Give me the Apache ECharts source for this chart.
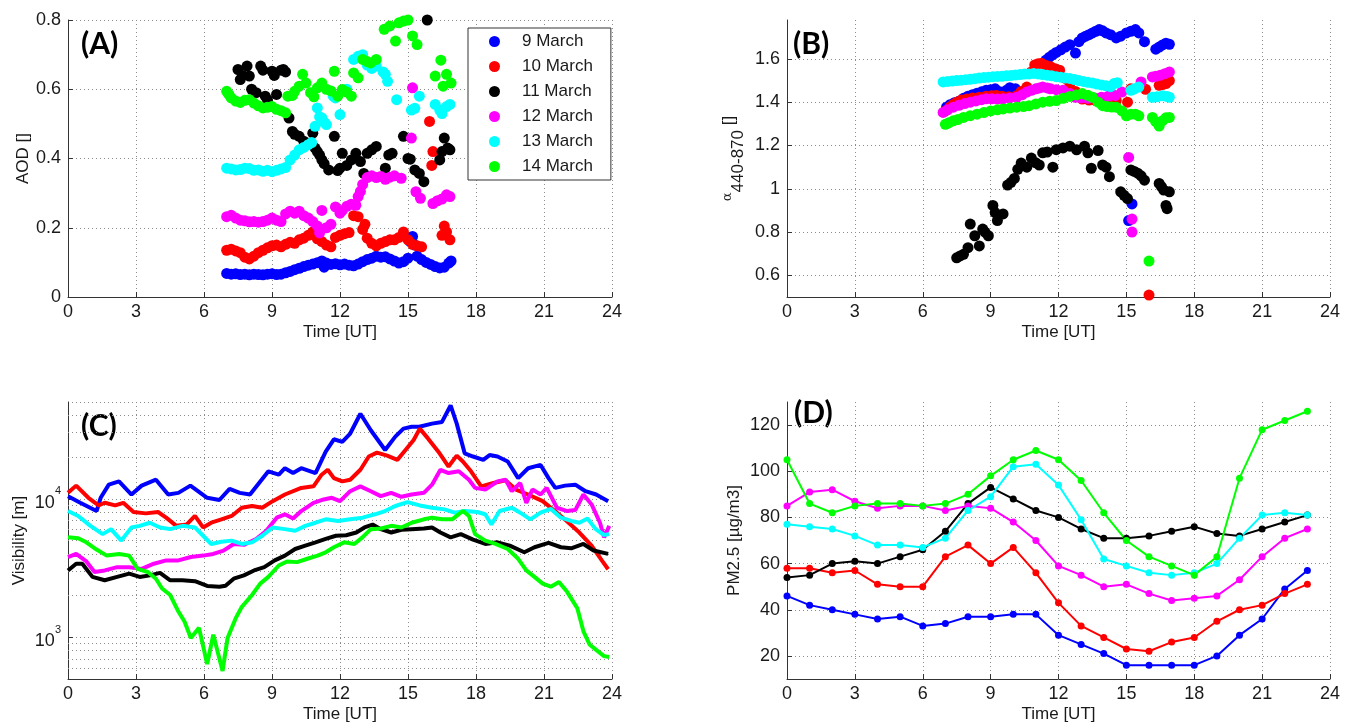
<!DOCTYPE html>
<html>
<head>
<meta charset="utf-8">
<script src="https://cdn.jsdelivr.net/npm/echarts@6/dist/echarts.min.js"></script>
<style>html,body{margin:0;padding:0;background:#fff}#chart{width:1346px;height:727px}</style>
</head>
<body>
<div id="chart"></div>
<script>
// days and colours (MATLAB default b r k m c g)
var days = ['9 March', '10 March', '11 March', '12 March', '13 March', '14 March'];
var colors = ['#0000ff', '#ff0000', '#000000', '#ff00ff', '#00ffff', '#00ff00'];

/* (A) AOD, [hour UT, AOD] */
var aod9 = [[7.0,.068],[7.2,.066],[7.4,.067],[7.6,.065],[7.8,.066],[8.0,.064],[8.2,.066],[8.4,.065],[8.6,.064],[8.8,.066],[9.0,.067],[9.2,.065],[9.4,.066],[9.6,.070],[9.8,.074],[10.0,.079],[10.2,.083],[10.4,.088],[10.6,.092],[10.8,.095],[11.0,.099],[11.2,.104],[11.3,.086],[11.4,.098],[11.6,.094],[11.8,.096],[12.0,.093],[12.2,.095],[12.4,.092],[12.6,.090],[12.8,.095],[13.0,.102],[13.2,.108],[13.4,.112],[13.6,.118],[13.8,.115],[14.0,.116],[14.2,.110],[14.4,.104],[14.6,.098],[14.8,.102],[15.0,.112],[15.1,.160],[15.2,.175],[15.3,.150],[15.4,.118],[15.6,.108],[15.8,.100],[16.0,.094],[16.2,.088],[16.4,.084],[16.6,.086],[16.8,.098],[16.9,.104]];
var aod10 = [[7.0,.135],[7.2,.138],[7.4,.133],[7.6,.128],[7.8,.115],[8.0,.110],[8.2,.118],[8.4,.128],[8.6,.135],[8.8,.142],[9.0,.148],[9.2,.150],[9.4,.145],[9.6,.152],[9.8,.158],[10.0,.155],[10.2,.165],[10.4,.170],[10.6,.178],[10.8,.188],[11.0,.168],[11.2,.160],[11.4,.150],[11.6,.145],[11.8,.172],[12.0,.178],[12.2,.183],[12.4,.186],[12.6,.235],[12.8,.232],[13.0,.195],[13.1,.210],[13.2,.170],[13.4,.155],[13.6,.148],[13.8,.155],[14.0,.160],[14.2,.165],[14.4,.165],[14.6,.172],[14.8,.188],[15.0,.165],[15.2,.152],[15.4,.148],[15.6,.145],[15.95,.507],[16.05,.380],[16.1,.420],[16.5,.178],[16.6,.205],[16.7,.188],[16.85,.165]];
var aod11 = [[7.5,.657],[7.6,.628],[7.7,.640],[7.9,.667],[8.0,.638],[8.1,.600],[8.3,.590],[8.5,.667],[8.6,.655],[8.7,.580],[8.8,.570],[9.0,.652],[9.1,.640],[9.2,.585],[9.4,.655],[9.5,.657],[9.6,.650],[9.75,.517],[9.9,.478],[10.0,.470],[10.2,.464],[10.4,.450],[10.6,.444],[10.8,.473],[10.9,.430],[11.0,.420],[11.1,.410],[11.2,.396],[11.3,.385],[11.5,.367],[11.75,.464],[11.9,.365],[12.0,.372],[12.1,.415],[12.3,.380],[12.5,.396],[12.7,.415],[12.9,.391],[13.05,.357],[13.2,.415],[13.4,.425],[13.6,.435],[14.0,.372],[14.15,.410],[14.3,.415],[14.8,.464],[15.0,.400],[15.1,.398],[15.3,.367],[15.5,.357],[15.7,.333],[15.85,.800],[16.4,.396],[16.5,.420],[16.6,.459],[16.75,.430],[16.85,.425]];
var aod12 = [[7.0,.232],[7.2,.236],[7.4,.228],[7.6,.222],[7.8,.220],[8.0,.217],[8.2,.218],[8.4,.216],[8.6,.218],[8.8,.222],[9.0,.228],[9.2,.222],[9.4,.218],[9.6,.240],[9.8,.248],[10.0,.242],[10.2,.248],[10.4,.235],[10.6,.228],[10.8,.218],[11.0,.205],[11.1,.185],[11.2,.250],[11.4,.200],[11.6,.210],[11.8,.260],[12.0,.242],[12.1,.250],[12.3,.262],[12.5,.268],[12.7,.265],[12.8,.290],[12.9,.305],[13.0,.325],[13.2,.345],[13.4,.350],[13.6,.345],[13.8,.348],[14.0,.340],[14.2,.346],[14.4,.350],[14.7,.343],[15.15,.459],[15.2,.604],[15.35,.304],[15.55,.285],[16.1,.270],[16.3,.278],[16.5,.283],[16.7,.295],[16.85,.290]];
var aod13 = [[7.0,.372],[7.2,.370],[7.4,.367],[7.6,.368],[7.8,.372],[8.0,.371],[8.2,.366],[8.4,.367],[8.6,.363],[8.8,.366],[9.0,.362],[9.2,.366],[9.4,.370],[9.6,.374],[9.8,.396],[10.0,.410],[10.2,.425],[10.4,.432],[10.6,.440],[10.75,.446],[10.9,.493],[11.0,.546],[11.1,.520],[11.2,.517],[11.3,.505],[11.4,.498],[11.7,.580],[11.8,.575],[12.0,.527],[12.3,.600],[12.6,.686],[12.8,.695],[13.0,.700],[13.2,.670],[13.4,.660],[13.6,.667],[13.9,.650],[14.0,.643],[14.1,.623],[14.5,.570],[15.15,.540],[15.3,.545],[15.5,.580],[16.2,.556],[16.4,.540],[16.5,.530],[16.7,.550],[16.85,.556]];
var aod14 = [[7.0,.594],[7.1,.585],[7.2,.575],[7.4,.566],[7.6,.562],[7.8,.568],[8.0,.570],[8.2,.560],[8.4,.552],[8.6,.546],[8.8,.548],[9.0,.550],[9.2,.542],[9.4,.538],[9.6,.532],[9.7,.580],[9.9,.582],[10.0,.594],[10.2,.609],[10.35,.643],[10.5,.618],[10.7,.590],[10.85,.578],[11.0,.604],[11.2,.618],[11.4,.600],[11.6,.595],[11.75,.652],[11.9,.580],[12.1,.599],[12.3,.592],[12.5,.580],[12.6,.647],[12.8,.633],[13.0,.686],[13.2,.680],[13.35,.676],[13.6,.686],[13.95,.773],[14.2,.783],[14.45,.739],[14.6,.792],[14.8,.797],[15.0,.800],[15.2,.754],[15.4,.729],[16.2,.638],[16.45,.684],[16.55,.609],[16.7,.643],[16.9,.618]];

/* (B) Angstrom exponent 440-870 */
var alpha9 = [[7.05,1.377],[7.2,1.388],[7.4,1.398],[7.6,1.405],[7.8,1.418],[8.0,1.428],[8.2,1.435],[8.4,1.442],[8.6,1.448],[8.8,1.455],[9.0,1.458],[9.2,1.462],[9.4,1.448],[9.55,1.440],[9.7,1.455],[9.85,1.467],[10.1,1.462],[11.45,1.595],[11.6,1.608],[11.75,1.620],[11.9,1.630],[12.1,1.642],[12.3,1.655],[12.5,1.666],[12.75,1.627],[12.9,1.680],[13.05,1.697],[13.2,1.705],[13.35,1.712],[13.5,1.720],[13.65,1.728],[13.8,1.736],[13.95,1.730],[14.1,1.720],[14.3,1.712],[14.55,1.697],[14.75,1.705],[15.0,1.720],[15.2,1.728],[15.4,1.736],[15.55,1.720],[15.8,1.680],[16.3,1.645],[16.45,1.655],[16.6,1.665],[16.75,1.673],[16.9,1.668],[15.25,0.930],[15.1,0.853]];
var alpha10 = [[7.0,1.360],[7.2,1.378],[7.35,1.390],[7.5,1.400],[7.7,1.410],[7.95,1.415],[8.2,1.420],[8.5,1.423],[8.8,1.428],[9.05,1.430],[9.25,1.431],[9.5,1.428],[9.8,1.425],[10.15,1.430],[10.35,1.450],[10.6,1.470],[10.8,1.540],[10.95,1.572],[11.1,1.578],[11.25,1.580],[11.45,1.570],[11.65,1.564],[11.85,1.555],[12.05,1.548],[12.3,1.510],[12.5,1.486],[12.75,1.450],[13.05,1.415],[13.35,1.410],[13.65,1.408],[14.0,1.408],[14.3,1.410],[14.55,1.408],[15.05,1.400],[15.2,1.462],[15.85,1.460],[16.45,1.478],[16.6,1.482],[16.75,1.486],[16.9,1.500],[16.0,0.509]];
var alpha11 = [[7.5,.681],[7.65,.690],[7.8,.697],[8.0,.728],[8.1,.837],[8.3,.783],[8.5,.736],[8.65,.814],[8.75,.800],[8.9,.783],[9.1,.923],[9.2,.890],[9.3,.853],[9.55,.884],[9.75,1.017],[9.9,1.030],[10.05,1.048],[10.2,1.090],[10.35,1.119],[10.6,1.100],[10.8,1.142],[11.0,1.120],[11.15,1.110],[11.3,1.166],[11.5,1.170],[11.75,1.100],[11.9,1.181],[12.2,1.189],[12.5,1.197],[12.8,1.180],[13.15,1.197],[13.3,1.166],[13.45,1.095],[13.75,1.177],[13.95,1.110],[14.1,1.100],[14.25,1.056],[14.75,.986],[14.9,.970],[15.05,.955],[15.2,1.087],[15.35,1.080],[15.5,1.072],[15.65,1.060],[15.8,1.040],[16.45,1.025],[16.55,1.010],[16.65,.994],[16.9,.986],[16.75,.923],[16.8,.908]];
var alpha12 = [[6.9,1.353],[7.1,1.365],[7.35,1.377],[7.6,1.386],[7.85,1.394],[8.1,1.400],[8.35,1.406],[8.6,1.412],[8.8,1.416],[9.05,1.416],[9.3,1.415],[9.55,1.416],[9.85,1.420],[10.15,1.423],[10.4,1.435],[10.6,1.447],[10.8,1.455],[11.0,1.462],[11.15,1.466],[11.3,1.470],[11.5,1.466],[11.65,1.462],[11.9,1.458],[12.2,1.455],[12.5,1.440],[12.75,1.423],[13.0,1.420],[13.3,1.418],[13.6,1.420],[13.9,1.423],[14.2,1.428],[14.5,1.431],[14.8,1.447],[15.65,1.494],[16.15,1.517],[16.3,1.520],[16.5,1.525],[16.7,1.532],[16.9,1.540],[15.1,1.145],[15.25,0.860],[15.25,0.800]];
var alpha13 = [[6.9,1.494],[7.1,1.496],[7.3,1.498],[7.5,1.500],[7.7,1.502],[7.9,1.504],[8.1,1.506],[8.3,1.509],[8.5,1.512],[8.7,1.514],[8.9,1.516],[9.1,1.518],[9.3,1.519],[9.5,1.520],[9.7,1.522],[9.9,1.524],[10.1,1.526],[10.3,1.528],[10.5,1.530],[10.7,1.531],[10.9,1.533],[11.1,1.531],[11.3,1.528],[11.5,1.525],[11.7,1.522],[11.9,1.518],[12.1,1.516],[12.3,1.512],[12.5,1.510],[12.7,1.505],[12.9,1.500],[13.1,1.496],[13.3,1.492],[13.5,1.489],[13.7,1.484],[13.9,1.480],[14.1,1.476],[14.3,1.472],[14.45,1.486],[14.6,1.490],[15.2,1.455],[15.35,1.462],[15.55,1.470],[16.15,1.423],[16.35,1.425],[16.6,1.430],[16.8,1.426],[16.9,1.423]];
var alpha14 = [[7.0,1.298],[7.15,1.305],[7.35,1.314],[7.55,1.320],[7.8,1.330],[8.1,1.338],[8.4,1.345],[8.7,1.352],[9.0,1.360],[9.3,1.365],[9.55,1.369],[9.85,1.373],[10.15,1.377],[10.45,1.380],[10.7,1.384],[11.0,1.392],[11.3,1.400],[11.6,1.404],[11.9,1.408],[12.2,1.418],[12.5,1.427],[12.8,1.434],[13.05,1.440],[13.3,1.432],[13.5,1.423],[13.75,1.400],[13.95,1.384],[14.15,1.380],[14.35,1.378],[14.55,1.377],[14.8,1.360],[15.0,1.337],[15.2,1.345],[15.4,1.345],[15.55,1.337],[16.15,1.330],[16.3,1.310],[16.45,1.290],[16.6,1.315],[16.75,1.328],[16.9,1.330],[16.0,0.666]];

/* (C) visibility [m] */
var vis9 = [[0,10450],[0.54,9360],[1.26,8160],[1.44,10170],[1.8,12650],[2.25,13360],[2.8,10740],[3.25,12450],[3.88,13740],[4.42,10740],[4.87,11040],[5.4,12450],[6.14,10170],[6.68,9800],[7.13,11790],[7.58,11040],[8.03,10740],[8.84,15800],[9.3,14930],[9.57,16630],[9.93,15350],[10.29,16630],[10.92,15350],[11.37,21900],[11.73,26900],[12.1,25800],[12.45,29600],[12.9,41100],[13.36,31250],[13.99,22500],[14.44,28100],[14.8,32100],[15.16,33100],[15.5,33100],[16.06,34900],[16.5,35900],[16.88,47200],[17.15,34900],[17.5,21300],[17.87,20200],[18.32,19100],[18.6,20700],[18.95,20200],[19.4,18600],[19.86,14100],[20.3,16630],[20.85,17570],[21.2,14100],[21.5,11990],[21.93,12450],[22.38,12650],[22.83,11350],[23.3,10740],[23.83,9620]];
var vis10 = [[0,11040],[0.36,12450],[0.9,10170],[1.35,8960],[1.62,9360],[2.08,8960],[2.44,9360],[2.89,8030],[3.43,7850],[3.97,8030],[4.33,7310],[4.78,6380],[5.23,6520],[5.6,7520],[5.96,6210],[6.32,6720],[6.77,7110],[7.22,7520],[7.67,8620],[8.12,8870],[8.57,8620],[9.03,9620],[9.57,10740],[10.29,11990],[10.83,12300],[11.19,14930],[11.46,16200],[11.73,14100],[12.1,13360],[12.45,13740],[12.9,16200],[13.27,20200],[13.63,21550],[14.08,20500],[14.53,19100],[14.89,22500],[15.25,26600],[15.52,32100],[15.88,27300],[16.34,21900],[16.79,17100],[17.15,20500],[17.42,18600],[17.78,15800],[18.23,12300],[18.77,13010],[19.3,13600],[19.76,11660],[20.3,10740],[20.94,9620],[21.48,8160],[22.0,6920],[22.56,5710],[23.1,4590],[23.55,3590],[23.83,3100]];
var vis11 = [[0,3040],[0.36,3400],[0.63,3400],[1.08,2730],[1.62,2580],[2.17,2730],[2.7,2880],[3.16,2730],[3.61,2800],[4.06,2920],[4.51,2580],[5.05,2580],[5.6,2540],[6.14,2350],[6.68,2320],[6.95,2360],[7.31,2650],[7.76,2800],[8.21,3040],[8.66,3210],[9.12,3590],[9.57,3890],[10.02,4340],[10.47,4590],[10.92,4850],[11.37,5130],[11.82,5410],[12.27,5460],[12.72,5710],[13.08,6210],[13.44,6520],[13.8,6040],[14.26,5710],[14.71,5980],[15.16,6040],[15.7,6100],[16.06,6210],[16.43,5710],[16.88,5270],[17.33,5560],[17.87,5070],[18.41,4720],[18.95,4850],[19.49,4590],[20.13,4110],[20.58,4470],[21.2,4800],[21.75,4470],[22.2,4390],[22.74,4720],[23.19,4230],[23.83,4000]];
var vis12 = [[0,3800],[0.36,4000],[0.81,3530],[1.17,2960],[1.62,3040],[2.17,3210],[2.7,3210],[3.25,3120],[3.79,3400],[4.33,3590],[4.87,3590],[5.42,3800],[5.96,3890],[6.41,4000],[6.86,4230],[7.31,4720],[7.76,4650],[8.3,5130],[8.75,5880],[9.21,7310],[9.57,7730],[9.93,7200],[10.29,8160],[10.83,9360],[11.28,9890],[11.64,10170],[12.0,9620],[12.45,11350],[12.9,12300],[13.36,11350],[13.8,10450],[14.26,11040],[14.71,10340],[15.16,10740],[15.7,11040],[16.06,12650],[16.43,16200],[16.79,15350],[17.24,15800],[17.69,13740],[17.96,11990],[18.41,11660],[18.95,13360],[19.31,13740],[19.58,11350],[19.95,13010],[20.22,9360],[20.49,11660],[20.85,10740],[21.12,11990],[21.57,8620],[22.02,8160],[22.38,8290],[22.74,10740],[23.1,9110],[23.47,6720],[23.65,5270],[23.88,6380]];
var vis13 = [[0,8160],[0.45,7520],[0.99,6380],[1.53,5560],[1.9,6040],[2.35,4990],[2.8,6210],[3.16,6380],[3.61,6720],[4.06,6210],[4.51,6040],[5.05,6380],[5.6,6210],[5.96,5410],[6.32,4720],[6.77,4900],[7.22,4990],[7.67,4720],[8.12,4850],[8.57,5410],[9.03,6210],[9.57,6040],[10.02,5880],[10.47,6380],[10.92,6720],[11.37,7110],[11.91,6920],[12.45,7110],[13.0,7310],[13.54,7730],[13.99,8160],[14.44,8870],[14.98,9470],[15.52,8960],[16.06,8620],[16.61,8390],[17.06,7940],[17.51,8160],[18.05,8030],[18.41,7730],[18.68,6520],[19.04,8160],[19.58,8620],[19.95,7940],[20.4,7110],[20.85,7940],[21.3,8460],[21.75,7310],[22.2,6920],[22.56,6720],[22.92,7200],[23.28,6040],[23.65,5480],[23.88,5560]];
var vis14 = [[0,5270],[0.45,5190],[0.81,4850],[1.26,4300],[1.71,3890],[2.26,4000],[2.7,3890],[3.07,3120],[3.52,2960],[3.88,2650],[4.15,2250],[4.51,2020],[4.87,1535],[5.14,1300],[5.42,990],[5.78,1170],[6.14,640],[6.41,1045],[6.82,572],[7.04,990],[7.4,1375],[7.67,1660],[8.12,2020],[8.48,2440],[8.84,2730],[9.3,3300],[9.66,3530],[10.11,3490],[10.56,3690],[11.01,3890],[11.37,4110],[11.73,4470],[12.18,4850],[12.63,4720],[12.99,5270],[13.36,6040],[13.81,6100],[14.26,6380],[14.71,6210],[15.16,6720],[15.7,7110],[16.06,7310],[16.5,7110],[16.95,7110],[17.42,8160],[17.69,7520],[17.96,5560],[18.41,4990],[18.86,4720],[19.4,4340],[19.86,3690],[20.22,3040],[20.58,2730],[20.94,2440],[21.3,2320],[21.66,2510],[22.02,2130],[22.47,1620],[22.74,1105],[23.01,887],[23.37,795],[23.65,731],[23.88,720]];
// minor log grid lines of panel C
var visMinor = [600, 700, 800, 900, 2000, 3000, 4000, 5000, 6000, 7000, 8000, 9000, 20000, 30000, 40000];

/* (D) PM2.5, hourly */
var hours = [0,1,2,3,4,5,6,7,8,9,10,11,12,13,14,15,16,17,18,19,20,21,22,23];
var pm9  = [46,42,40,38,36,37,33,34,37,37,38,38,29,25,21,16,16,16,16,20,29,36,49,57];
var pm10 = [58,58,56,57,51,50,50,63,68,60,67,56,43,33,28,23,22,26,28,35,40,42,47,51];
var pm11 = [54,55,60,61,60,63,66,74,86,93,88,83,80,75,71,71,72,74,76,73,72,75,78,81];
var pm12 = [85,91,92,87,84,85,85,83,85,84,78,70,59,55,50,51,47,44,45,46,53,63,71,75];
var pm13 = [77,76,75,72,68,68,67,71,83,89,102,103,94,79,62,59,56,55,56,60,71,81,82,81];
var pm14 = [105,86,82,85,86,86,85,86,90,98,105,109,105,96,82,70,63,59,55,63,97,118,122,126];

var FONT = '"Liberation Sans", Arial, sans-serif';
var AX = '#333';
var TXT = '#1a1a1a';

function xAxis(i) {
    return {
        gridIndex: i, type: 'value', min: 0, max: 24, interval: 3,
        name: 'Time [UT]', nameLocation: 'middle', nameGap: 27,
        nameTextStyle: {fontSize: 17, color: TXT, fontFamily: FONT},
        axisLine: {onZero: false, lineStyle: {color: AX}},
        axisTick: {inside: true, length: 5, lineStyle: {color: AX}},
        axisLabel: {fontSize: 18, color: TXT, fontFamily: FONT, margin: 6},
        splitLine: {show: true, lineStyle: {color: '#8c8c8c', type: [1, 3]}}
    };
}

function yAxis(i, opt) {
    var ax = {
        gridIndex: i, type: 'value',
        nameLocation: 'middle', nameRotate: 90,
        nameTextStyle: {fontSize: 17, color: TXT, fontFamily: FONT},
        axisLine: {show: true, onZero: false, lineStyle: {color: AX}},
        axisTick: {show: true, inside: true, length: 5, lineStyle: {color: AX}},
        axisLabel: {fontSize: 18, color: TXT, fontFamily: FONT, margin: 7, showMinLabel: true, showMaxLabel: true},
        splitLine: {show: true, lineStyle: {color: '#8c8c8c', type: [1, 3]}}
    };
    for (var k in opt) {
        if (typeof opt[k] === 'object' && ax[k] && !Array.isArray(opt[k])) {
            for (var j in opt[k]) ax[k][j] = opt[k][j];
        } else {
            ax[k] = opt[k];
        }
    }
    return ax;
}

var aodSets = [aod9, aod10, aod11, aod12, aod13, aod14];
var alphaSets = [alpha9, alpha10, alpha11, alpha12, alpha13, alpha14];
var visSets = [vis9, vis10, vis11, vis12, vis13, vis14];
var pmSets = [pm9, pm10, pm11, pm12, pm13, pm14];

var series = [];
// minor grid of the log axis, drawn first so the curves sit on top
series.push({
    type: 'line', name: 'grid', xAxisIndex: 2, yAxisIndex: 2, data: [], silent: true,
    markLine: {
        silent: true, symbol: 'none', animation: false, z: 1,
        label: {show: false},
        lineStyle: {color: '#8c8c8c', type: [1, 3], width: 1},
        data: visMinor.map(function (v) { return {yAxis: v}; })
    }
});
for (var d = 0; d < 6; d++) {
    series.push({
        name: days[d], type: 'scatter', xAxisIndex: 0, yAxisIndex: 0,
        symbol: 'circle', symbolSize: 11,
        itemStyle: {color: colors[d], opacity: 1},
        data: aodSets[d]
    });
    series.push({
        name: days[d], type: 'scatter', xAxisIndex: 1, yAxisIndex: 1,
        symbol: 'circle', symbolSize: 11,
        itemStyle: {color: colors[d], opacity: 1},
        data: alphaSets[d]
    });
    series.push({
        name: days[d], type: 'line', xAxisIndex: 2, yAxisIndex: 2,
        showSymbol: false, symbol: 'none',
        lineStyle: {color: colors[d], width: 4},
        itemStyle: {color: colors[d]},
        data: visSets[d]
    });
    series.push({
        name: days[d], type: 'line', xAxisIndex: 3, yAxisIndex: 3,
        symbol: 'circle', symbolSize: 7, showSymbol: true,
        lineStyle: {color: colors[d], width: 2},
        itemStyle: {color: colors[d]},
        data: hours.map(function (h, k) { return [h, pmSets[d][k]]; })
    });
}

var myChart = echarts.init(document.getElementById('chart'));
myChart.setOption({
    animation: false,
    backgroundColor: '#fff',
    textStyle: {fontFamily: FONT},
    grid: [
        {left: 68, top: 20, width: 544, height: 277},
        {left: 787, top: 20, width: 543, height: 277},
        {left: 68, top: 402, width: 544, height: 277},
        {left: 787, top: 402, width: 543, height: 277}
    ],
    xAxis: [xAxis(0), xAxis(1), xAxis(2), xAxis(3)],
    yAxis: [
        yAxis(0, {min: 0, max: 0.8, interval: 0.2, name: 'AOD []', nameGap: 31}),
        yAxis(1, {
            min: 0.5, max: 1.78, splitNumber: 6, nameGap: 40,
            name: '{a|α}{s|440-870}{b| []}',
            nameTextStyle: {
                rich: {
                    a: {fontSize: 13, fontFamily: 'DejaVu Serif', color: TXT, lineHeight: 26, verticalAlign: 'top'},
                    s: {fontSize: 17, fontFamily: FONT, color: TXT, lineHeight: 26, verticalAlign: 'bottom'},
                    b: {fontSize: 17, fontFamily: FONT, color: TXT, lineHeight: 26, verticalAlign: 'top'}
                }
            },
            axisLabel: {showMinLabel: false, showMaxLabel: false},
            splitLine: {showMinLine: false, showMaxLine: false}
        }),
        yAxis(2, {
            type: 'log', logBase: 10, min: 500, max: 50000, name: 'Visibility [m]', nameGap: 40,
            axisLabel: {
                showMinLabel: false, showMaxLabel: false,
                formatter: function (v) {
                    var e = Math.round(Math.log(v) / Math.LN10);
                    if (Math.abs(Math.pow(10, e) - v) > 1e-6 * v) return '';
                    return '{n|10}{p|' + e + '}';
                },
                rich: {
                    n: {fontSize: 18, fontFamily: FONT, color: TXT, lineHeight: 26, verticalAlign: 'bottom'},
                    p: {fontSize: 11, fontFamily: FONT, color: TXT, lineHeight: 12, verticalAlign: 'top'}
                }
            }
        }),
        yAxis(3, {
            min: 10, max: 130, splitNumber: 6, name: 'PM2.5 [µg/m3]', nameGap: 44,
            axisLabel: {showMinLabel: false, showMaxLabel: false},
            splitLine: {showMinLine: false, showMaxLine: false}
        })
    ],
    legend: {
        data: days.map(function (n) { return {name: n, icon: 'circle'}; }),
        orient: 'vertical', left: 468, top: 28,
        padding: [5, 18, 5, 21], itemWidth: 11, itemHeight: 11, itemGap: 8,
        backgroundColor: '#fff', borderColor: '#333', borderWidth: 1, borderRadius: 0,
        selectedMode: false,
        textStyle: {fontSize: 17, color: TXT, fontFamily: FONT, padding: [0, 0, 0, 17]}
    },
    graphic: [
        {type: 'text', left: 81, top: 29, style: {text: '(A)', font: 'bold 30px Lato', fill: '#000'}},
        {type: 'text', left: 793, top: 29, style: {text: '(B)', font: 'bold 30px Lato', fill: '#000'}},
        {type: 'text', left: 81, top: 411, style: {text: '(C)', font: 'bold 30px Lato', fill: '#000'}},
        {type: 'text', left: 794, top: 398, style: {text: '(D)', font: 'bold 30px Lato', fill: '#000'}}
    ],
    series: series
});
</script>
</body>
</html>
